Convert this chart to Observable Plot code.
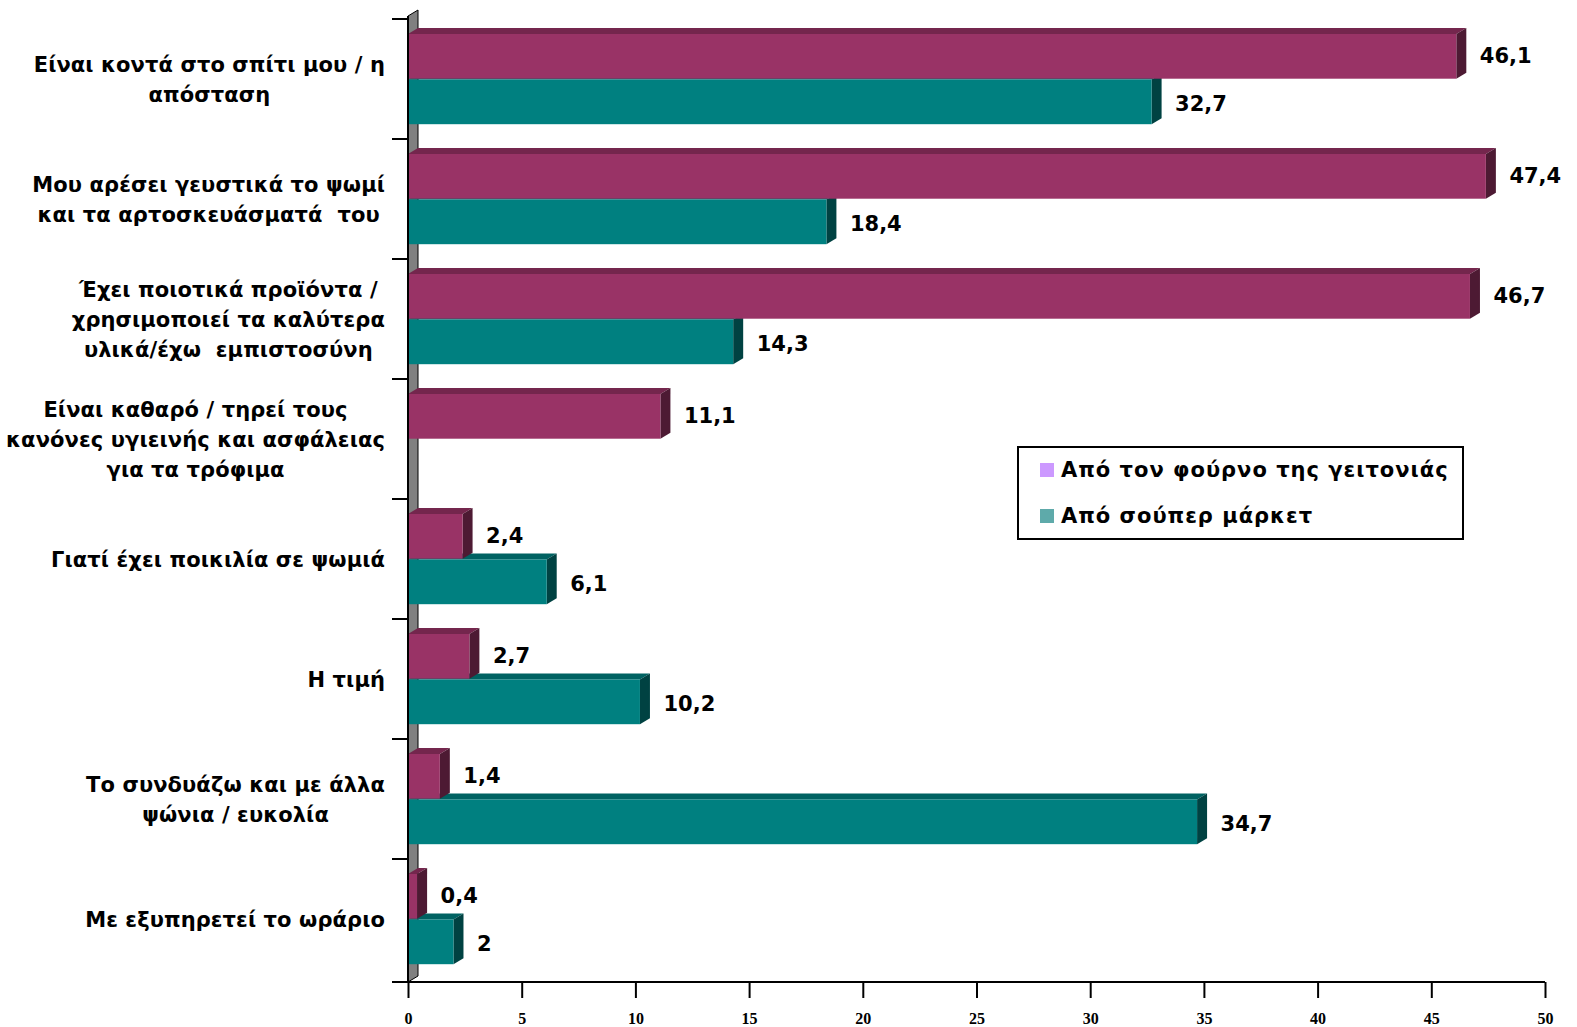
<!DOCTYPE html>
<html><head><meta charset="utf-8">
<script src="https://cdn.jsdelivr.net/npm/d3@7"></script>
<script src="https://cdn.jsdelivr.net/npm/@observablehq/plot@0.6"></script>
<style>
body{margin:0;background:#fff;}
#wrap{position:relative;width:1577px;height:1027px;}
#legend{position:absolute;left:1017px;top:446px;width:443px;height:90px;border:2px solid #000;background:#fff;font:bold 21px "DejaVu Sans";letter-spacing:1px;color:#000;}
#legend .item{position:absolute;left:21px;display:flex;align-items:center;white-space:nowrap;}
#legend .sw{width:14px;height:14px;margin-right:7px;}
</style></head><body><div id="wrap"><div id="chart"></div>
<div id="legend"></div></div>
<script>
const categories = [
  "Είναι κοντά στο σπίτι μου / η\nαπόσταση",
  "Μου αρέσει γευστικά το ψωμί\nκαι τα αρτοσκευάσματά  του",
  "Έχει ποιοτικά προϊόντα /\nχρησιμοποιεί τα καλύτερα\nυλικά/έχω  εμπιστοσύνη",
  "Είναι καθαρό / τηρεί τους\nκανόνες υγιεινής και ασφάλειας\nγια τα τρόφιμα",
  "Γιατί έχει ποικιλία σε ψωμιά",
  "Η τιμή",
  "Το συνδυάζω και με άλλα\nψώνια / ευκολία",
  "Με εξυπηρετεί το ωράριο"
];
const bakery = [46.1, 47.4, 46.7, 11.1, 2.4, 2.7, 1.4, 0.4];
const supermarket = [32.7, 18.4, 14.3, null, 6.1, 10.2, 34.7, 2];
const seriesNames = ["Από τον φούρνο της γειτονιάς", "Από σούπερ μάρκετ"];
const legendColors = ["#cc99ff", "#5eaaaa"];
const xTicks = [0, 5, 10, 15, 20, 25, 30, 35, 40, 45, 50];

const bakeryRows = categories.map((c, i) => ({category: c, value: bakery[i]})).filter(d => d.value != null);
const marketRows = categories.map((c, i) => ({category: c, value: supermarket[i]})).filter(d => d.value != null);

const DX = 10, DY = 6;
const B_TOP = 15, B_BOT = 60.3, M_TOP = 60.5, M_BOT = 14.8;
const fmt = v => String(v).replace(".", ",");
const bw = s => typeof s.bandwidth === "function" ? s.bandwidth() : s.bandwidth;

function faces(rows, insetTop, insetBottom, topColor, sideColor) {
  return (index, scales) => {
    const {x, y} = scales;
    const b = bw(y);
    const g = d3.create("svg:g");
    for (const d of rows) {
      const x0 = x(0), x1 = x(d.value);
      const y0 = y(d.category) + insetTop, y1 = y(d.category) + b - insetBottom;
      g.append("path").attr("d", `M${x0},${y0}L${x0+DX},${y0-DY}L${x1+DX},${y0-DY}L${x1},${y0}Z`).attr("fill", topColor);
      g.append("path").attr("d", `M${x1},${y0}L${x1+DX},${y0-DY}L${x1+DX},${y1-DY}L${x1},${y1}Z`).attr("fill", sideColor);
    }
    return g.node();
  };
}

function wall(index, scales, values, dim) {
  const x0 = scales.x(0);
  const yT = dim.marginTop, yB = dim.height - dim.marginBottom;
  const g = d3.create("svg:g");
  g.append("path").attr("d", `M${x0},${yT}L${x0+DX},${yT-DY}L${x0+DX},${yB-DY}L${x0},${yB}Z`)
    .attr("fill", "#808080").attr("stroke", "#000").attr("stroke-width", 1);
  return g.node();
}

function axes(index, scales, values, dim) {
  const {x, y} = scales;
  const x0 = x(0);
  const yT = dim.marginTop, yB = dim.height - dim.marginBottom;
  const g = d3.create("svg:g").attr("stroke", "#000").attr("stroke-width", 2);
  g.append("line").attr("x1", x0).attr("x2", x0).attr("y1", yT).attr("y2", yB);
  g.append("line").attr("x1", x0 - 16).attr("x2", x(50)).attr("y1", yB).attr("y2", yB);
  for (const c of categories) {
    const yy = y(c);
    g.append("line").attr("x1", x0 - 16).attr("x2", x0).attr("y1", yy).attr("y2", yy);
  }
  g.append("line").attr("x1", x0 - 16).attr("x2", x0).attr("y1", yB).attr("y2", yB);
  return g.node();
}

function catLabels(index, scales, values, dim) {
  const {y} = scales;
  const b = bw(y);
  const fs = 21, ls = 0.1;
  const ctx = document.createElement("canvas").getContext("2d");
  ctx.font = `bold ${fs}px "DejaVu Sans"`;
  const right = 385, lh = 30;
  const g = d3.create("svg:g").attr("font-family", "DejaVu Sans").attr("font-weight", "bold")
    .attr("font-size", fs).attr("letter-spacing", ls).attr("fill", "#000").attr("text-anchor", "middle");
  for (const c of categories) {
    const lines = c.split("\n");
    const w = d3.max(lines, l => ctx.measureText(l).width + ls * l.length);
    const cx = right - w / 2;
    const cy = y(c) + b / 2 + 1;
    lines.forEach((l, i) => {
      g.append("text").attr("x", cx).attr("y", cy + (i - (lines.length - 1) / 2) * lh)
        .attr("dy", "0.35em").style("white-space", "pre").text(l);
    });
  }
  return g.node();
}

const chart = Plot.plot({
  width: 1577, height: 1027,
  marginLeft: 408, marginRight: 32, marginTop: 16, marginBottom: 45,
  x: {domain: [0, 50]},
  y: {domain: categories, padding: 0, axis: null},
  style: {background: "#fff"},
  marks: [
    wall,
    faces(marketRows, M_TOP, M_BOT, "#006262", "#004242"),
    Plot.barX(marketRows, {x: "value", y: "category", fill: "#008080", insetTop: M_TOP, insetBottom: M_BOT}),
    faces(bakeryRows, B_TOP, B_BOT, "#74264d", "#4d1a33"),
    Plot.barX(bakeryRows, {x: "value", y: "category", fill: "#993366", insetTop: B_TOP, insetBottom: B_BOT}),
    axes,
    Plot.axisX({ticks: xTicks, tickFormat: d => String(d), tickSize: 16, tickPadding: 14, strokeWidth: 2, label: null,
      fontFamily: "Liberation Serif", fontWeight: "bold", fontSize: 16, fill: "#000", stroke: "#000"}),
    Plot.text(bakeryRows, {x: "value", y: "category", text: d => fmt(d.value), dx: DX + 13, dy: -23,
      textAnchor: "start", fontSize: 21, fontWeight: "bold", fontFamily: "DejaVu Sans", fill: "#000"}),
    Plot.text(marketRows, {x: "value", y: "category", text: d => fmt(d.value), dx: DX + 13, dy: 25,
      textAnchor: "start", fontSize: 21, fontWeight: "bold", fontFamily: "DejaVu Sans", fill: "#000"}),
    catLabels
  ]
});
document.getElementById("chart").appendChild(chart);

const legend = document.getElementById("legend");
seriesNames.forEach((name, i) => {
  const item = document.createElement("div");
  item.className = "item";
  item.style.top = (i === 0 ? 10 : 56) + "px";
  const sw = document.createElement("div");
  sw.className = "sw";
  sw.style.background = legendColors[i];
  const t = document.createElement("span");
  t.textContent = name;
  item.appendChild(sw); item.appendChild(t);
  legend.appendChild(item);
});
</script></body></html>
